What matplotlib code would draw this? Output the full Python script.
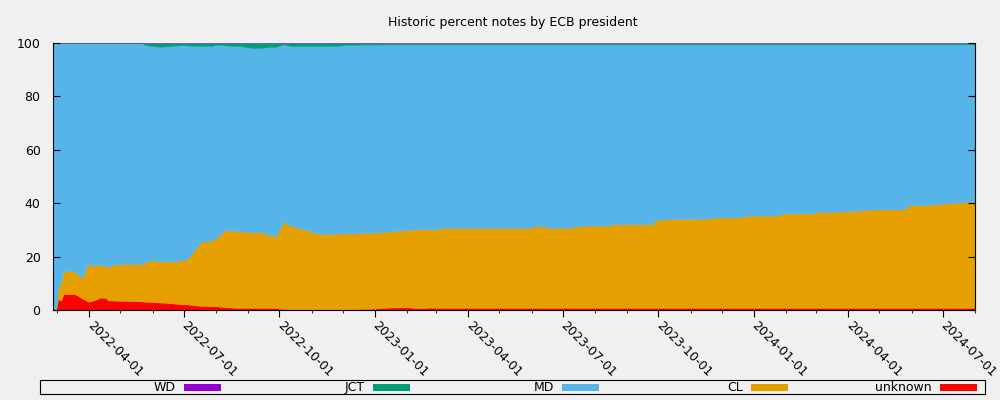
import numpy as np
import pandas as pd
import matplotlib
matplotlib.use('Agg')
import matplotlib.pyplot as plt
import matplotlib.dates as mdates
from matplotlib.patches import Rectangle


dates = ['2022-02-25', '2022-02-28', '2022-03-02', '2022-03-05', '2022-03-07',
         '2022-03-18', '2022-03-25', '2022-03-31', '2022-04-04', '2022-04-12',
         '2022-04-17', '2022-04-19', '2022-04-26', '2022-05-08', '2022-05-22',
         '2022-05-25', '2022-05-30', '2022-06-08', '2022-06-13', '2022-06-28',
         '2022-07-04', '2022-07-18', '2022-07-28', '2022-08-02', '2022-08-10',
         '2022-08-23', '2022-09-06', '2022-09-13', '2022-09-21', '2022-09-28',
         '2022-10-05', '2022-10-12', '2022-10-25', '2022-11-06', '2022-11-16',
         '2022-11-26', '2022-12-06', '2022-12-20', '2022-12-24', '2022-12-28',
         '2023-01-14', '2023-02-01', '2023-02-14', '2023-02-23', '2023-02-28',
         '2023-03-07', '2023-06-01', '2023-06-02', '2023-06-14', '2023-06-16',
         '2023-07-08', '2023-07-11', '2023-07-24', '2023-08-15', '2023-08-17',
         '2023-09-26', '2023-09-28', '2023-10-15', '2023-11-20', '2023-11-22',
         '2023-12-21', '2023-12-23', '2024-01-25', '2024-01-27', '2024-02-28',
         '2024-03-01', '2024-03-20', '2024-04-08', '2024-04-23', '2024-05-26',
         '2024-05-28', '2024-06-17', '2024-06-29', '2024-07-13', '2024-08-01']

unknown = [0, 0, 4.1, 3.5, 6.0, 6.0, 4.4, 3.1, 3.4, 4.7,
           4.4, 3.6, 3.5, 3.4, 3.2, 3.1, 3.0, 2.8, 2.7, 2.2,
           2.1, 1.5, 1.4, 1.4, 1.0, 0.8, 0.8, 0.8, 0.8, 0.7,
           0.4, 0.3, 0.3, 0.3, 0.3, 0.3, 0.3, 0.4, 0.4, 0.4,
           0.9, 1.0, 0.6, 0.9, 0.8, 0.8, 0.8, 0.8, 0.8, 0.8,
           0.8, 0.8, 0.8, 0.8, 0.8, 0.8, 0.8, 0.8, 0.8, 0.8,
           0.8, 0.8, 0.8, 0.8, 0.8, 0.8, 0.8, 0.8, 0.8, 0.8,
           0.8, 0.8, 0.8, 0.8, 0.8]

cl = [0, 0, 4.6, 6.8, 8.7, 8.4, 7.5, 14.4, 13.2, 12.2,
      12.0, 12.6, 13.6, 13.8, 14.1, 14.7, 15.7, 15.5, 15.4, 16.3,
      16.9, 24.1, 24.6, 25.8, 29.0, 28.7, 28.3, 28.5, 27.2, 27.0,
      32.7, 31.2, 29.9, 28.4, 28.1, 28.3, 28.4, 28.3, 28.7, 28.4,
      28.5, 29.0, 29.6, 29.4, 29.3, 30.0, 30.0, 30.5, 30.5, 30.0,
      30.0, 30.4, 30.8, 30.8, 31.3, 31.3, 32.9, 33.3, 33.4, 33.8,
      33.9, 34.5, 34.6, 35.3, 35.4, 35.8, 36.0, 36.4, 36.8, 36.9,
      38.3, 38.6, 39.0, 39.4, 39.8]

md = [100, 100, 91.3, 89.7, 85.3, 85.6, 88.1, 82.5, 83.4, 83.1,
      83.6, 83.8, 82.9, 82.8, 82.7, 81.4, 80.3, 80.3, 80.6, 80.7,
      80.1, 73.3, 72.9, 72.2, 69.1, 69.4, 69.0, 68.9, 70.5, 70.9,
      66.4, 67.4, 68.7, 70.2, 70.5, 70.4, 70.6, 70.7, 70.3, 70.6,
      70.1, 69.5, 69.3, 69.2, 69.4, 68.7, 68.7, 68.2, 68.2, 68.7,
      68.7, 68.3, 67.9, 67.9, 67.4, 67.4, 65.8, 65.4, 65.3, 64.9,
      64.8, 64.2, 64.1, 63.4, 63.3, 62.9, 62.7, 62.3, 61.9, 61.8,
      60.4, 60.1, 59.7, 59.3, 58.9]

jct = [0, 0, 0, 0, 0, 0, 0, 0, 0, 0,
       0, 0, 0, 0, 0, 0.8, 1.0, 1.4, 1.3, 0.8,
       0.9, 1.1, 1.1, 0.6, 0.9, 1.1, 1.9, 1.8, 1.5, 1.4,
       0.5, 1.1, 1.1, 1.1, 1.1, 1.0, 0.7, 0.6, 0.6, 0.6,
       0.5, 0.5, 0.5, 0.5, 0.5, 0.5, 0.5, 0.5, 0.5, 0.5,
       0.5, 0.5, 0.5, 0.5, 0.5, 0.5, 0.5, 0.5, 0.5, 0.5,
       0.5, 0.5, 0.5, 0.5, 0.5, 0.5, 0.5, 0.5, 0.5, 0.5,
       0.5, 0.5, 0.5, 0.5, 0.5]

wd = [0] * len(dates)

# legend order (top of the stack first)
labels = ['WD', 'JCT', 'MD', 'CL', 'unknown']
colors = ['#9400d3', '#009e73', '#56b4e9', '#e69f00', '#ff0000']

bg = '#f0f0f0'


def draw_stack(ax, x, series, cols):
    '''
    Draws the series as stacked areas, first series at the bottom.
    '''
    base = np.zeros(len(x))
    for values, col in zip(series, cols):
        top = base + np.array(values, dtype=float)
        ax.fill_between(x, base, top, facecolor=col, edgecolor=col, linewidth=0.3)
        base = top


def draw_legend(fig, labels, colors):
    '''
    Gnuplot style key box under the plot: one column per entry,
    label right aligned next to a coloured sample.
    '''
    lax = fig.add_axes([0.040, 0.015, 0.945, 0.035])
    lax.set_xlim(0, 945)
    lax.set_ylim(0, 14)
    lax.set_xticks([])
    lax.set_yticks([])
    lax.set_facecolor(bg)
    for s in lax.spines.values():
        s.set_linewidth(0.8)
        s.set_color('black')
    colw = 945 / len(labels)
    for i, (lab, col) in enumerate(zip(labels, colors)):
        right = (i + 1) * colw - 8
        lax.add_patch(Rectangle((right - 37, 3.5), 37, 7, facecolor=col, edgecolor='none'))
        lax.text(right - 45, 6.3, lab, ha='right', va='center', fontsize=9)


x = pd.to_datetime(dates)

fig = plt.figure(figsize=(10, 4), dpi=100, facecolor=bg)
ax = fig.add_axes([0.053, 0.225, 0.922, 0.6675])
ax.set_facecolor(bg)

draw_stack(ax, x, [unknown, cl, md, jct, wd], colors[::-1])

ax.set_xlim(x[0], x[-1])
ax.set_ylim(0, 100)
ax.set_yticks(np.arange(0, 101, 20))

ax.xaxis.set_major_locator(mdates.MonthLocator(bymonth=[1, 4, 7, 10]))
ax.xaxis.set_minor_locator(mdates.MonthLocator())
ax.xaxis.set_major_formatter(mdates.DateFormatter('%Y-%m-%d'))

ax.tick_params(axis='y', direction='in', length=5, width=0.8, labelsize=9, pad=9,
               right=True)
ax.tick_params(axis='x', which='major', direction='out', length=5, width=0.8,
               labelsize=9, pad=5)
ax.tick_params(axis='x', which='minor', direction='out', length=2.5, width=0.6)
for lbl in ax.get_xticklabels():
    lbl.set_rotation(-45)
    lbl.set_ha('left')
    lbl.set_va('center')
    lbl.set_rotation_mode('anchor')

ax.spines['top'].set_visible(False)
for side in ['left', 'right', 'bottom']:
    ax.spines[side].set_linewidth(0.8)

fig.text(0.513, 0.943, 'Historic percent notes by ECB president', ha='center',
         va='center', fontsize=9)

draw_legend(fig, labels, colors)

fig.savefig('out.png', dpi=100, facecolor=bg)
